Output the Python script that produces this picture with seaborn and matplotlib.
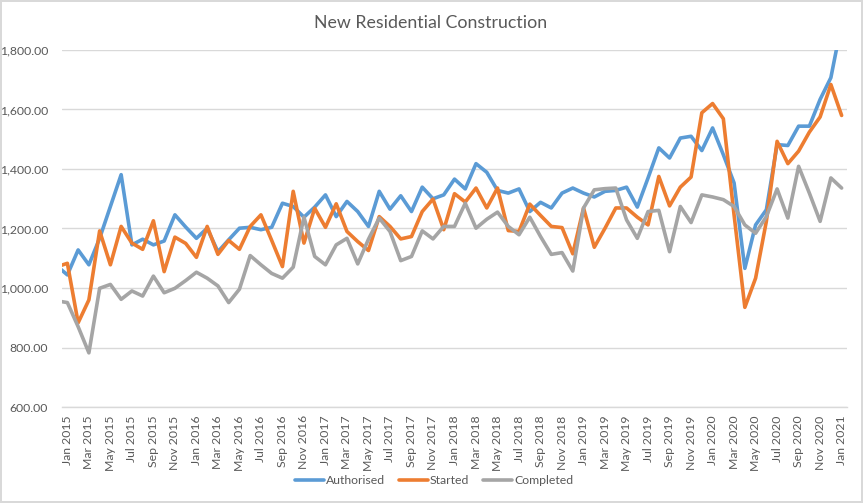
import pandas as pd
import numpy as np
import matplotlib
matplotlib.use("Agg")
import matplotlib.pyplot as plt
import seaborn as sns
from matplotlib.ticker import FuncFormatter, FixedLocator

# monthly values, Dec 2014 .. Jan 2021 (Dec 2014 only shows as the clipped stub at the left edge)
months = pd.date_range("2014-12-01", periods=74, freq="MS")
month_labels = [d.strftime("%b %Y") for d in months]

authorised = [
    1075,
    1044, 1128, 1078, 1167, 1274, 1381, 1145, 1164, 1145, 1158, 1246, 1205,
    1167, 1201, 1122, 1162, 1201, 1204, 1196, 1204, 1285, 1274, 1238, 1272,
    1313, 1240, 1291, 1257, 1207, 1325, 1265, 1310, 1257, 1339, 1300, 1313,
    1366, 1333, 1418, 1389, 1328, 1319, 1333, 1257, 1288, 1269, 1319, 1336,
    1319, 1306, 1325, 1328, 1339, 1272, 1370, 1471, 1437, 1504, 1510, 1462,
    1538, 1448, 1353, 1066, 1212, 1263, 1482, 1479, 1544, 1544, 1634, 1707,
    1890,
]
started = [
    1071,
    1083, 883, 960, 1192, 1078, 1207, 1151, 1130, 1226, 1055, 1171, 1150,
    1103, 1207, 1113, 1160, 1130, 1207, 1246, 1160, 1072, 1325, 1151, 1268,
    1204, 1283, 1190, 1156, 1126, 1240, 1207, 1165, 1173, 1257, 1299, 1196,
    1317, 1289, 1336, 1269, 1336, 1193, 1190, 1282, 1244, 1207, 1203, 1115,
    1269, 1137, 1201, 1269, 1269, 1238, 1212, 1375, 1276, 1339, 1373, 1589,
    1620, 1569, 1245, 935, 1033, 1224, 1493, 1418, 1460, 1524, 1575, 1684,
    1580,
]
completed = [
    957,
    951, 870, 782, 999, 1012, 962, 990, 973, 1040, 984, 999, 1025,
    1053, 1033, 1007, 951, 996, 1109, 1078, 1049, 1033, 1070, 1238, 1106,
    1078, 1145, 1167, 1081, 1164, 1235, 1190, 1092, 1106, 1192, 1165, 1207,
    1207, 1285, 1201, 1231, 1255, 1207, 1179, 1238, 1173, 1113, 1119, 1057,
    1269, 1330, 1334, 1336, 1229, 1167, 1257, 1261, 1122, 1274, 1220, 1313,
    1306, 1297, 1274, 1212, 1184, 1240, 1333, 1235, 1409, 1319, 1224, 1370,
    1336,
]

series_names = ["Authorised", "Started", "Completed"]
colors = ["#5B9BD5", "#ED7D31", "#A5A5A5"]

idx = np.arange(len(months))
df = pd.concat([
    pd.DataFrame({"idx": idx, "value": authorised, "series": "Authorised"}),
    pd.DataFrame({"idx": idx, "value": started, "series": "Started"}),
    pd.DataFrame({"idx": idx, "value": completed, "series": "Completed"}),
])

sns.set_theme(style="white")
plt.rcParams["font.family"] = ["Lato", "DejaVu Sans"]

text_col = "#595959"
grid_col = "#D9D9D9"

fig = plt.figure(figsize=(8.63, 5.03), dpi=100)
fig.patch.set_edgecolor(grid_col)
fig.patch.set_linewidth(1.5)
ax = fig.add_axes([62 / 863, 1 - 407 / 503, (847 - 62) / 863, (407 - 50) / 503])

sns.lineplot(data=df, x="idx", y="value", hue="series", hue_order=series_names,
             palette=colors, linewidth=2.6, ax=ax, legend=False)

ax.set_xlim(0.5, 73.5)
ax.set_ylim(600, 1800)
ax.set_yticks(np.arange(600, 1801, 200))
ax.yaxis.set_major_formatter(FuncFormatter(lambda v, p: f"{v:,.2f}"))
ax.grid(axis="y", color=grid_col, linewidth=1)
ax.set_axisbelow(True)

# labels on every other month starting Jan 2015, tick marks between categories
label_pos = idx[1::2]
ax.xaxis.set_major_locator(FixedLocator(label_pos))
ax.set_xticklabels([month_labels[i] for i in label_pos], rotation=90, va="top", ha="center")
ax.xaxis.set_minor_locator(FixedLocator(np.arange(0.5, 74, 2)))
ax.tick_params(axis="x", which="major", length=0, pad=6, labelsize=8.8, labelcolor=text_col)
ax.tick_params(axis="x", which="minor", length=4, width=1, color=grid_col, direction="out")
ax.tick_params(axis="y", length=0, pad=10, labelsize=8.8, labelcolor=text_col)

for side in ["top", "right", "left"]:
    ax.spines[side].set_visible(False)
ax.spines["bottom"].set_color(grid_col)
ax.spines["bottom"].set_linewidth(1)

ax.set_xlabel("")
ax.set_ylabel("")

fig.text(431 / 863, 1 - 23 / 503, "New Residential Construction", ha="center", va="center",
         fontsize=12.8, color=text_col)

handles = [plt.Line2D([], [], color=c, linewidth=2.6) for c in colors]
fig.legend(handles, series_names, loc="center", bbox_to_anchor=(434 / 863, 1 - 481 / 503),
           ncol=3, frameon=False, fontsize=8.8, labelcolor=text_col,
           handlelength=2.4, handletextpad=0.15, columnspacing=1.1)

plt.savefig("out.png", dpi=100)
plt.close()
